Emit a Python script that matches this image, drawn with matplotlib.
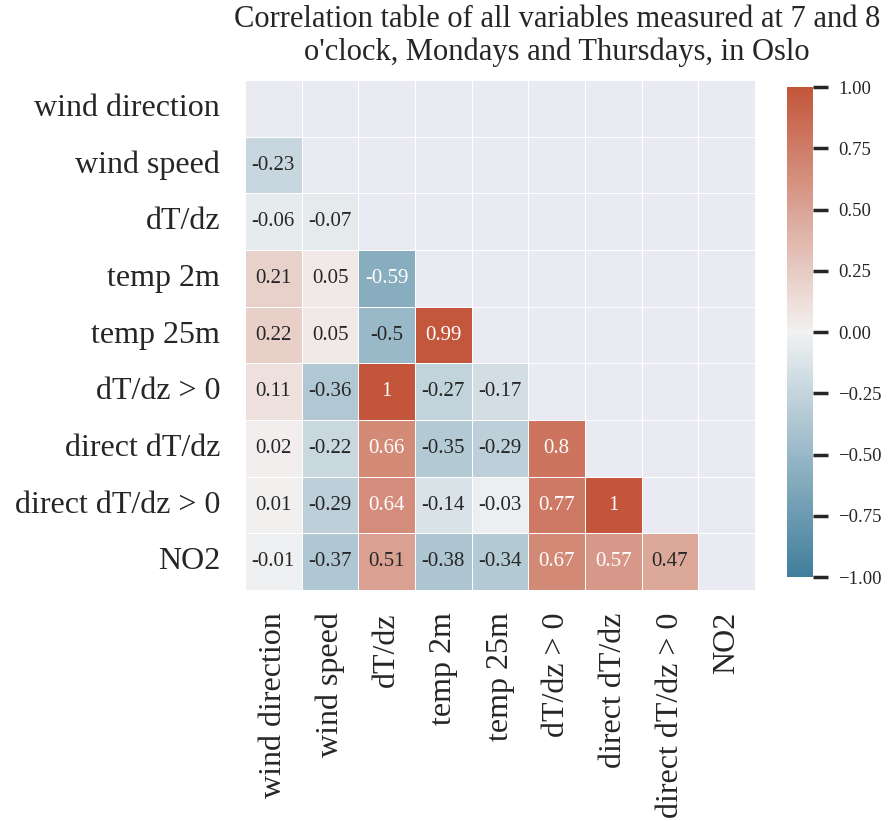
import matplotlib
matplotlib.use("Agg")
import matplotlib.pyplot as plt
import numpy as np
import pandas as pd
import seaborn as sns

labels = ["wind direction", "wind speed", "dT/dz", "temp 2m", "temp 25m",
          "dT/dz > 0", "direct dT/dz", "direct dT/dz > 0", "NO2"]

# lower triangle of the correlation table, row by row
lower_rows = [
    [],
    [-0.23],
    [-0.06, -0.07],
    [0.21, 0.05, -0.59],
    [0.22, 0.05, -0.5, 0.99],
    [0.11, -0.36, 1, -0.27, -0.17],
    [0.02, -0.22, 0.66, -0.35, -0.29, 0.8],
    [0.01, -0.29, 0.64, -0.14, -0.03, 0.77, 1],
    [-0.01, -0.37, 0.51, -0.38, -0.34, 0.67, 0.57, 0.47],
]

n = len(labels)
corr = np.eye(n)
for i, row in enumerate(lower_rows):
    for j, v in enumerate(row):
        corr[i, j] = v
        corr[j, i] = v
corr = pd.DataFrame(corr, index=labels, columns=labels)

sns.set_theme(style="darkgrid")
plt.rcParams["font.family"] = ["Liberation Serif", "DejaVu Serif"]

fig = plt.figure(figsize=(8.88, 8.21), dpi=100)
ax = fig.add_axes([245 / 888, 1 - 590 / 821, 510 / 888, 510 / 821])
cax = fig.add_axes([787 / 888, 1 - 577 / 821, 26 / 888, 490 / 821])

mask = np.triu(np.ones_like(corr, dtype=bool))
cmap = sns.diverging_palette(230, 20, as_cmap=True)
sns.heatmap(corr, mask=mask, cmap=cmap, vmin=-1, vmax=1, center=0,
            annot=True, fmt="g", annot_kws={"size": 15},
            linewidths=0.5, square=False, ax=ax, cbar_ax=cax)
ax.grid(False)

fig.text(557 / 888, 1 - 5 / 821,
         "Correlation table of all variables measured at 7 and 8\n"
         "o'clock, Mondays and Thursdays, in Oslo",
         ha="center", va="top", fontsize=22, linespacing=1.15)
ax.tick_params(axis="y", labelsize=23, length=0, pad=18)
ax.tick_params(axis="x", labelsize=23, length=0, pad=16)
plt.setp(ax.get_yticklabels(), rotation=0)
plt.setp(ax.get_xticklabels(), rotation=90)

cax.set_yticks(np.arange(-1, 1.01, 0.25))
cax.tick_params(labelsize=13.5, length=11, width=2.5, color="#262626",
                right=True, pad=7)

fig.savefig("out.png", dpi=100)
